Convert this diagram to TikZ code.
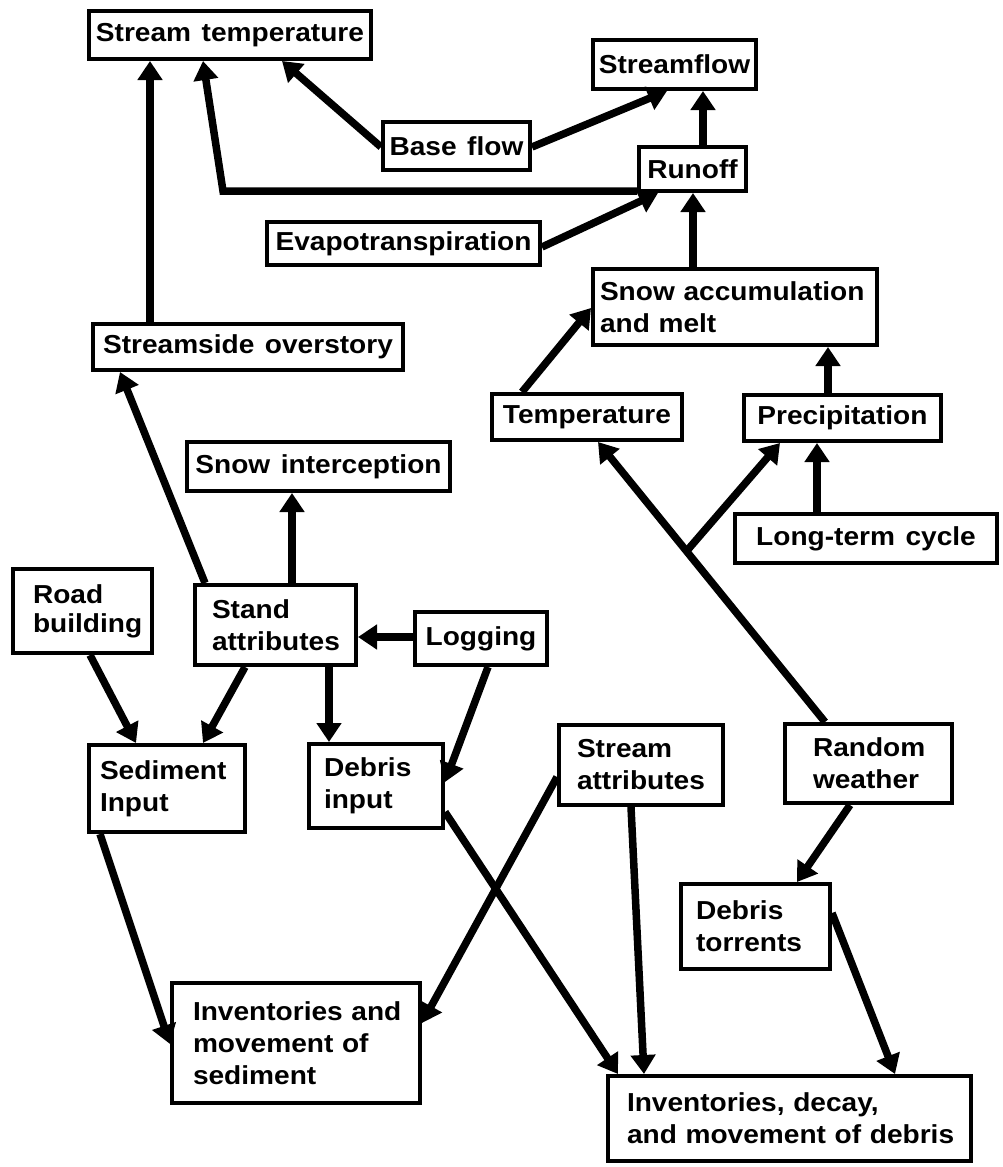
\documentclass[tikz,border=0pt]{standalone}
\usepackage{fontspec}
\newfontfamily\diagfont{Liberation Sans}[FakeStretch=1.08, WordSpace=1.35]
\newcommand\nohyph{\hyphenpenalty=10000\relax\exhyphenpenalty=10000\relax}
\usetikzlibrary{arrows.meta,calc}
\begin{document}
\begin{tikzpicture}[x=1pt,y=-1pt,
  box/.style={draw, line width=4pt, inner sep=0pt, fill=white,
    font=\diagfont\bfseries\fontsize{26}{32}\selectfont\nohyph},
  multi/.style={align=left},
  arr/.style={line width=7.5pt, -{Triangle[width=24pt,length=19pt]}}]
\fill[white] (0,0) rectangle (1002,1167);
\useasboundingbox (0,0) rectangle (1002,1167);

% nodes
\node[box, minimum width=282pt, minimum height=48pt] (stemp) at (230,35) {Stream temperature};
\node[box, minimum width=163pt, minimum height=49pt] (sflow) at (674.5,64.5) {Streamflow};
\node[box, minimum width=147pt, minimum height=48pt] (base) at (456.5,146) {Base flow};
\node[box, minimum width=107pt, minimum height=44pt] (runoff) at (692.5,169) {Runoff};
\node[box, minimum width=273pt, minimum height=43pt] (evap) at (403.5,243.5) {Evapotranspiration};
\node[box, multi, minimum width=284pt, minimum height=76pt, inner xsep=7pt, text width=270pt] (snow) at (735,307) {\mbox{Snow accumulation}\\\mbox{and melt}};
\node[box, minimum width=310pt, minimum height=46pt] (sso) at (248,347) {Streamside overstory};
\node[box, minimum width=190pt, minimum height=46pt] (temp) at (587,417) {Temperature};
\node[box, minimum width=197pt, minimum height=46pt] (precip) at (842.5,418) {Precipitation};
\node[box, minimum width=262pt, minimum height=49pt] (ltc) at (866,538.5) {Long-term cycle};
\node[box, minimum width=263pt, minimum height=49pt] (sint) at (318.5,466.5) {Snow interception};
\node[box, multi, minimum width=139pt, minimum height=84pt, inner xsep=20pt, text width=99pt,
  font=\diagfont\bfseries\fontsize{26}{29}\selectfont\nohyph] (road) at (82.5,611) {Road\\building};
\node[box, multi, minimum width=161pt, minimum height=80pt, inner xsep=17pt, text width=127pt] (stand) at (275.5,625) {Stand\\attributes};
\node[box, minimum width=132pt, minimum height=53pt] (log) at (481,638.5) {Logging};
\node[box, multi, minimum width=156pt, minimum height=87pt, inner xsep=11pt, text width=134pt] (sed) at (167,788.5) {Sediment\\Input};
\node[box, multi, minimum width=134pt, minimum height=84pt, inner xsep=15pt, text width=104pt] (debin) at (376,786) {Debris\\input};
\node[box, multi, minimum width=164pt, minimum height=80pt, inner xsep=18pt, text width=128pt] (sattr) at (641,765) {Stream\\attributes};
\node[box, multi, minimum width=167pt, minimum height=79pt, inner xsep=28pt, text width=111pt] (rw) at (868.5,763.5) {Random\\weather};
\node[box, multi, minimum width=149pt, minimum height=85pt, inner xsep=15pt, text width=119pt] (dt) at (755.5,926.5) {Debris\\torrents};
\node[box, multi, minimum width=248pt, minimum height=120pt, inner xsep=21pt, text width=206pt] (invsed) at (296,1043) {\mbox{Inventories and}\\\mbox{movement of}\\sediment};
\node[box, multi, minimum width=363pt, minimum height=85pt, inner xsep=19pt, text width=325pt] (invdeb) at (789.5,1118.5) {\mbox{Inventories, decay,}\\\mbox{and movement of debris}};

% connectors
\draw[arr] (sso.north -| 150,0) -- (stemp.south -| 150,0);
\draw[arr] (runoff.west |- 0,191) -- (223,191) -- (stemp.south -| 203,0);
\draw[arr] (base.west |- 0,147) -- (stemp.south -| 282,0);
\draw[arr] (base.east |- 0,147) -- (sflow.south -| 667,0);
\draw[arr] (runoff.north -| 703,0) -- (sflow.south -| 703,0);
\draw[arr] (evap.east |- 0,247) -- (runoff.south -| 658,0);
\draw[arr] (snow.north -| 693,0) -- (runoff.south -| 693,0);
\draw[arr] (temp.north -| 522,0) -- (snow.west |- 0,308);
\draw[arr] (precip.north -| 828,0) -- (snow.south -| 828,0);
\coordinate (rwtop) at (rw.north -| 825,0);
\coordinate (temptip) at (temp.south -| 598,0);
\draw[arr] (rwtop) -- (temptip);
\coordinate (br) at ($(rwtop)!0.61!(temptip)$);
\draw[arr] (br) -- (precip.south -| 780,0);
\draw[arr] (ltc.north -| 817,0) -- (precip.south -| 817,0);
\draw[arr] (stand.north -| 205,0) -- (sso.south -| 120,0);
\draw[arr] (stand.north -| 292,0) -- (sint.south -| 292,0);
\draw[arr] (log.west |- 0,637) -- (stand.east |- 0,637);
\draw[arr] (stand.south -| 245,0) -- (sed.north -| 203,0);
\draw[arr] (road.south -| 90,0) -- (sed.north -| 136,0);
\draw[arr] (stand.south -| 329,0) -- (debin.north -| 329,0);
\draw[arr] (log.south -| 488,0) -- (debin.east |- 0,782);
\draw[arr] (sed.south -| 100,0) -- (invsed.west |- 0,1044);
\draw[arr] (sattr.west |- 0,777) -- (invsed.east |- 0,1023);
\draw[arr] (debin.east |- 0,812) -- (invdeb.north -| 618,0);
\draw[arr] (sattr.south -| 631,0) -- (invdeb.north -| 644,0);
\draw[arr] (rw.south -| 850,0) -- (dt.north -| 797,0);
\draw[arr] (dt.east |- 0,913) -- (invdeb.north -| 895,0);
\end{tikzpicture}
\end{document}
